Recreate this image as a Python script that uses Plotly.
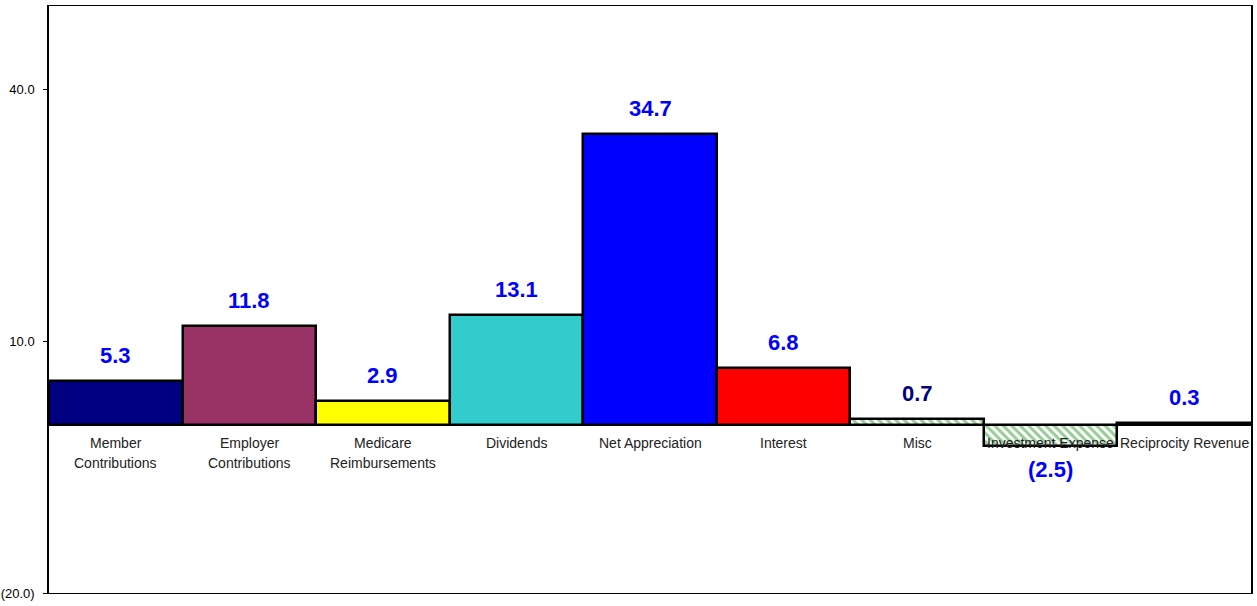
import plotly.graph_objects as go

# Sources of additions, in millions
categories = ["Member Contributions", "Employer Contributions", "Medicare Reimbursements",
              "Dividends", "Net Appreciation", "Interest", "Misc",
              "Investment Expense", "Reciprocity Revenue"]
axis_labels = [["Member", "Contributions"], ["Employer", "Contributions"],
               ["Medicare", "Reimbursements"], ["Dividends"], ["Net Appreciation"],
               ["Interest"], ["Misc"], ["Investment Expense"], ["Reciprocity Revenue"]]
values = [5.3, 11.8, 2.9, 13.1, 34.7, 6.8, 0.7, -2.5, 0.3]

bar_colors = ["#000080", "#993366", "#FFFF00", "#33CCCC", "#0000FF",
              "#FF0000", "#FFFFFF", "#FFFFFF", "#000000"]
hatched = [False, False, False, False, False, False, True, True, False]
label_colors = ["#0000FF", "#0000FF", "#0000FF", "#0000FF", "#0000FF",
                "#0000FF", "#000080", "#0000FF", "#0000FF"]

tick_vals = [-20, 10, 40]

FONT = "Liberation Sans, Arial, sans-serif"


def fmt(v):
    return f"({abs(v):.1f})" if v < 0 else f"{v:.1f}"


solid_vals = [None if h else v for v, h in zip(values, hatched)]
hatch_vals = [v if h else None for v, h in zip(values, hatched)]

fig = go.Figure()
# Solid-filled bars
fig.add_trace(go.Bar(
    x=categories,
    y=solid_vals,
    marker=dict(color=bar_colors, line=dict(color="#000000", width=2.5)),
    hoverinfo="x+y",
))
# Hatched bars (white ground, green diagonal lines)
fig.add_trace(go.Bar(
    x=categories,
    y=hatch_vals,
    marker=dict(
        color="#FFFFFF",
        line=dict(color="#000000", width=2.5),
        pattern=dict(shape="\\", fgcolor="#2E9A2E", fillmode="overlay",
                     size=6, solidity=0.5),
    ),
    hoverinfo="x+y",
))

annotations = []
for cat, v, c in zip(categories, values, label_colors):
    annotations.append(dict(
        x=cat, y=v, xref="x", yref="y",
        text=f"<b>{fmt(v)}</b>",
        showarrow=False,
        yanchor="bottom" if v >= 0 else "top",
        yshift=11 if v >= 0 else -9,
        font=dict(family=FONT, size=22, color=c),
    ))
for cat, lines in zip(categories, axis_labels):
    for i, line in enumerate(lines):
        annotations.append(dict(
            x=cat, y=0, xref="x", yref="y",
            text=line,
            showarrow=False,
            yanchor="middle",
            yshift=-18 - 20 * i,
            font=dict(family=FONT, size=14, color="#222222"),
        ))

fig.update_layout(
    width=1257, height=606,
    margin=dict(l=49, r=6, t=6, b=13),
    paper_bgcolor="#FFFFFF",
    plot_bgcolor="#FFFFFF",
    barmode="overlay",
    bargap=0,
    showlegend=False,
    annotations=annotations,
    font=dict(family=FONT, color="#000000"),
)
fig.update_xaxes(
    range=[-0.5, len(categories) - 0.5],
    showticklabels=False,
    ticks="",
    showgrid=False,
    automargin=False,
    showline=True, linecolor="#000000", linewidth=1, mirror=True,
)
fig.update_yaxes(
    range=[-20, 50],
    tickvals=tick_vals,
    ticktext=[fmt(v) for v in tick_vals],
    ticks="outside", ticklen=4, tickcolor="#000000",
    ticklabelstandoff=6,
    tickfont=dict(family=FONT, size=13, color="#000000"),
    showgrid=False,
    automargin=False,
    zeroline=True, zerolinecolor="#000000", zerolinewidth=2,
    showline=True, linecolor="#000000", linewidth=1.5, mirror=True,
)

fig.write_html("out.html")
